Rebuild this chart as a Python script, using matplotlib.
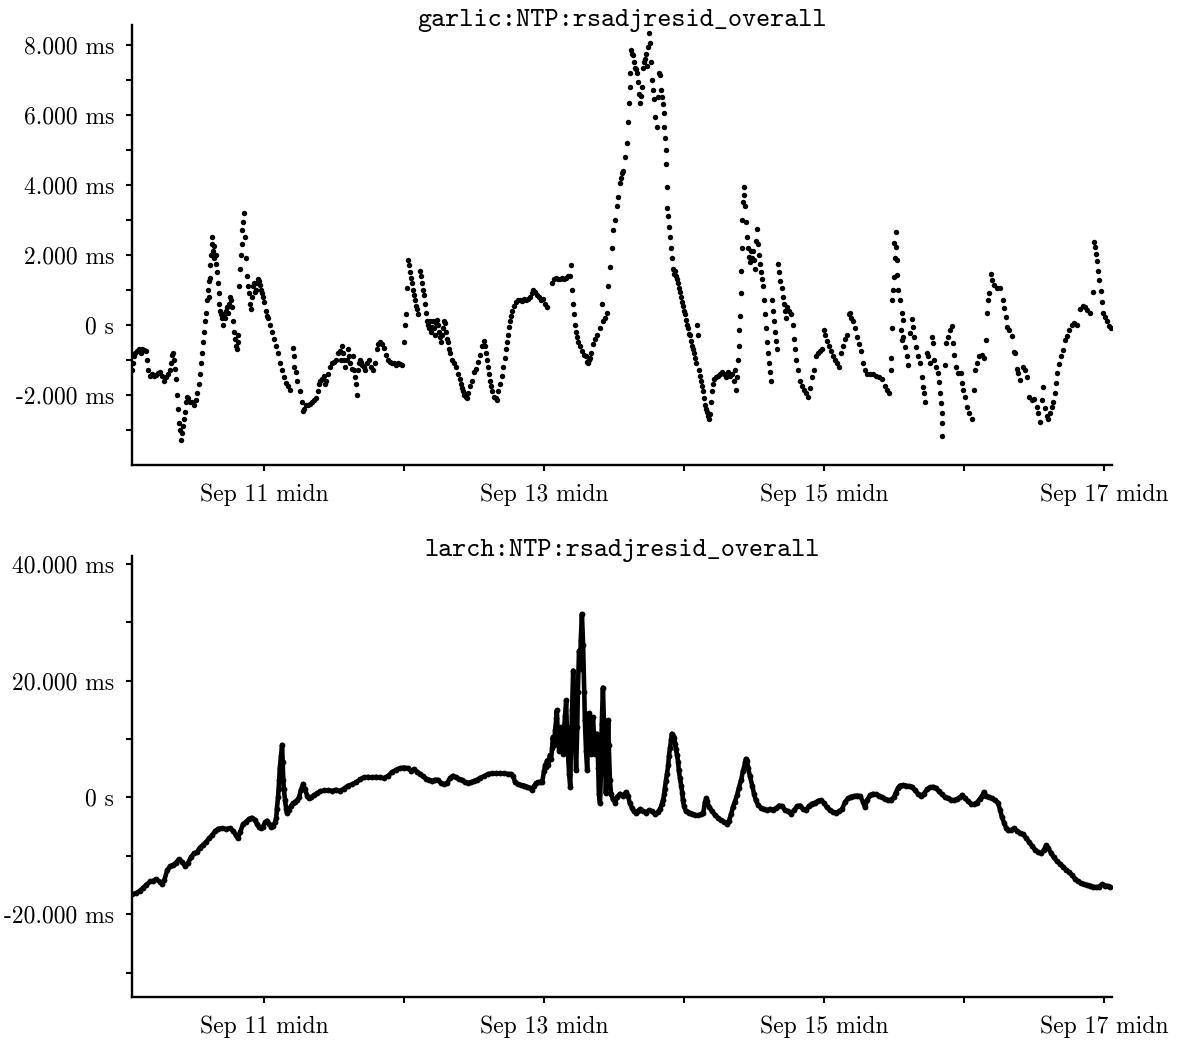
import numpy as np
import matplotlib.pyplot as plt
from matplotlib.ticker import FixedLocator, FixedFormatter

plt.rcParams['font.family'] = ['cmr10', 'DejaVu Serif']
plt.rcParams['axes.unicode_minus'] = False

# time in hours since Sep 10 00:00, offsets in ms
garlic_hours = [
    1.37, 1.54, 1.71, 1.89, 2.23, 2.57, 2.91, 3.09, 3.43, 3.77, 3.94, 4.11, 4.46, 4.80, 5.14, 5.49,
    5.83, 6.17, 6.51, 6.86, 7.20, 7.54, 7.89, 8.06, 8.23, 8.40, 8.57, 8.74, 8.91, 9.09, 9.26, 9.43,
    9.60, 9.77, 9.94, 10.11, 10.29, 10.46, 10.63, 10.80, 10.97, 11.31, 11.66, 12.00, 12.34, 12.51,
    12.86, 13.03, 13.20, 13.37, 13.54, 13.71, 13.89, 14.06, 14.23, 14.40, 14.49, 14.57, 14.66, 14.74,
    14.91, 15.00, 15.09, 15.26, 15.34, 15.43, 15.60, 15.69, 15.77, 15.94, 16.11, 16.20, 16.29, 16.46,
    16.63, 16.80, 16.97, 17.14, 17.31, 17.49, 17.66, 17.83, 18.00, 18.17, 18.34, 18.51, 18.69, 18.86,
    19.03, 19.20, 19.37, 19.46, 19.54, 19.71, 19.89, 20.06, 20.23, 20.31, 20.40, 20.57, 20.74, 20.91,
    21.09, 21.26, 21.43, 21.60, 21.77, 21.94, 22.11, 22.29, 22.46, 22.63, 22.80, 22.97, 23.14, 23.31,
    23.49, 23.66, 23.83, 24.00, 24.34, 24.51, 24.69, 25.03, 25.37, 25.71, 26.06, 26.40, 26.74, 27.09,
    27.43, 27.77, 28.11, 28.46, 28.97, 29.06, 29.14, 29.49, 29.66, 30.17, 30.51, 30.69, 30.86, 31.20,
    31.54, 31.89, 32.23, 32.57, 32.91, 33.26, 33.43, 33.60, 33.94, 34.29, 34.46, 34.63, 34.97, 35.31,
    35.66, 36.00, 36.34, 36.69, 37.03, 37.20, 37.37, 37.54, 37.71, 37.89, 38.23, 38.40, 38.57, 38.74,
    39.09, 39.26, 39.43, 39.60, 39.77, 39.94, 40.11, 40.29, 40.46, 40.63, 40.80, 41.14, 41.31, 41.66,
    42.00, 42.34, 42.69, 43.03, 43.37, 43.54, 43.89, 44.23, 44.57, 44.91, 45.26, 45.60, 45.94, 46.29,
    46.63, 46.97, 47.31, 47.66, 48.00, 48.17, 48.34, 48.51, 48.69, 48.86, 49.03, 49.20, 49.37, 49.54,
    49.71, 49.89, 50.06, 50.23, 50.40, 50.74, 50.91, 51.09, 51.26, 51.43, 51.60, 51.77, 51.94, 52.11,
    52.29, 52.46, 52.63, 52.80, 52.97, 53.14, 53.31, 53.49, 53.66, 53.83, 54.00, 54.17, 54.34, 54.51,
    54.69, 54.86, 55.03, 55.20, 55.37, 55.54, 55.71, 55.89, 56.23, 56.57, 56.91, 57.26, 57.60, 57.77,
    57.94, 58.11, 58.29, 58.63, 58.80, 58.97, 59.31, 59.66, 60.00, 60.34, 60.69, 61.03, 61.37, 61.71,
    61.89, 62.06, 62.23, 62.40, 62.57, 62.74, 62.91, 63.09, 63.43, 63.77, 63.94, 64.11, 64.46, 64.80,
    64.97, 65.31, 65.49, 65.66, 65.83, 66.00, 66.17, 66.34, 66.51, 66.86, 67.20, 67.54, 67.89, 68.23,
    68.57, 68.91, 69.26, 69.60, 69.94, 70.11, 70.46, 70.80, 71.14, 71.49, 71.83, 72.17, 72.51, 73.37,
    73.71, 74.06, 74.40, 74.74, 75.09, 75.43, 75.77, 76.11, 76.46, 76.63, 76.80, 76.97, 77.14, 77.31,
    77.49, 77.66, 77.83, 78.17, 78.51, 78.86, 79.20, 79.37, 79.54, 79.71, 79.89, 80.06, 80.40, 80.74,
    81.09, 81.60, 81.94, 82.11, 82.46, 82.80, 82.97, 83.31, 83.66, 83.83, 84.17, 84.51, 84.69, 85.03,
    85.20, 85.37, 85.54, 85.89, 86.23, 86.40, 86.57, 86.66, 86.74, 86.91, 87.09, 87.26, 87.43, 87.60,
    87.77, 87.94, 88.11, 88.29, 88.46, 88.63, 88.80, 88.97, 89.14, 89.31, 89.49, 89.66, 89.83, 90.00,
    90.17, 90.34, 90.51, 90.69, 90.86, 91.03, 91.37, 91.54, 91.71, 91.89, 92.06, 92.23, 92.40, 92.49,
    92.57, 92.74, 92.83, 92.91, 93.00, 93.09, 93.26, 93.43, 93.60, 93.77, 93.94, 94.11, 94.29, 94.46,
    94.63, 94.80, 94.97, 95.14, 95.31, 95.49, 95.66, 95.83, 96.00, 96.17, 96.34, 96.51, 96.69, 96.86,
    97.03, 97.20, 97.37, 97.54, 97.71, 97.89, 98.06, 98.23, 98.40, 98.57, 98.74, 98.91, 99.09, 99.26,
    99.43, 99.60, 99.77, 99.94, 100.11, 100.29, 100.46, 100.63, 100.80, 100.97, 101.14, 101.49,
    101.83, 102.17, 102.51, 102.86, 103.20, 103.54, 103.89, 104.23, 104.57, 104.74, 104.91, 105.09,
    105.26, 105.43, 105.51, 105.60, 105.69, 105.77, 105.86, 105.94, 106.11, 106.20, 106.29, 106.46,
    106.63, 106.80, 106.97, 107.14, 107.31, 107.49, 107.66, 107.83, 108.00, 108.17, 108.34, 108.51,
    108.69, 108.86, 109.03, 109.20, 109.37, 109.54, 109.71, 109.89, 110.06, 110.23, 110.40, 110.57,
    110.74, 110.91, 111.09, 111.26, 111.43, 111.60, 111.77, 111.94, 112.11, 112.29, 112.46, 112.80,
    112.97, 113.14, 113.31, 113.49, 113.66, 114.00, 114.34, 114.69, 114.86, 115.03, 115.20, 115.54,
    115.89, 116.23, 116.57, 116.91, 117.26, 117.60, 117.94, 118.29, 118.63, 118.97, 119.31, 119.66,
    120.00, 120.17, 120.51, 120.86, 121.20, 121.54, 121.89, 122.23, 122.57, 122.91, 123.26, 123.60,
    123.94, 124.29, 124.46, 124.63, 124.97, 125.31, 125.66, 126.00, 126.34, 126.69, 127.03, 127.37,
    127.89, 128.40, 128.91, 129.43, 129.94, 130.46, 130.80, 131.14,
    131.43, 131.54, 131.61, 131.66, 131.78, 132.00, 132.12, 132.00, 132.34, 132.34, 132.46, 132.57,
    132.74, 133.03, 133.32, 133.49, 133.15, 133.32, 133.59, 133.89, 134.18, 134.35, 134.74, 135.03,
    135.20, 135.43, 135.77, 136.17, 136.46, 136.75, 136.92, 137.14, 137.31, 137.60, 137.88, 138.17,
    138.46, 138.63, 138.86, 139.20, 139.49, 139.77, 139.94, 140.06, 140.18, 140.23, 140.28, 140.74,
    140.91, 141.20, 141.60, 141.89, 142.06, 142.29, 142.63, 143.02, 143.43, 143.66, 143.88, 144.22,
    144.57, 144.91, 145.32, 145.71, 145.94, 146.18, 146.62, 147.03, 147.43, 147.77, 148.00, 148.17,
    148.34, 148.58, 148.80, 149.14, 149.61, 150.17, 150.63, 150.86, 151.20, 151.42, 151.77, 152.18,
    152.57, 152.79, 153.03, 153.31, 153.60, 154.17, 154.46, 154.75, 155.19, 155.61, 156.00, 156.46,
    156.74, 157.03, 157.37, 157.59, 157.89, 158.18, 158.45, 158.74, 159.03, 159.31, 159.60, 159.77,
    160.00, 160.34, 160.58, 160.92, 161.32, 161.71, 162.05, 162.46, 162.86, 163.32, 163.89, 164.45,
    164.74, 165.14, 165.60, 166.06, 166.29, 166.51, 166.63, 166.75, 166.97, 167.19, 167.43, 167.66,
    167.88, 168.22, 168.57, 168.91, 169.15,
]
garlic_ms = [
    -1.3, -1.1, -0.9, -0.8, -0.75, -0.7, -0.8, -0.7, -0.72, -0.75, -1.0, -1.3, -1.45, -1.4, -1.45, -1.42,
    -1.38, -1.35, -1.45, -1.6, -1.5, -1.4, -1.3, -1.1, -0.85, -0.8, -1.0, -1.25, -1.55, -2.0, -2.4, -2.8,
    -3.0, -3.3, -3.1, -2.9, -2.7, -2.5, -2.2, -2.05, -2.1, -2.2, -2.2, -2.3, -2.15, -1.95,
    -1.7, -1.4, -1.1, -0.8, -0.5, -0.2, 0.1, 0.35, 0.7, 1.0, 0.8, 1.25, 1.35, 1.7,
    2.0, 2.3, 2.5, 2.1, 2.25, 1.9, 2.0, 1.75, 2.0, 1.5, 1.2, 0.9, 0.6, 0.4,
    0.3, 0.2, 0.0, 0.3, 0.2, 0.4, 0.5, 0.35, 0.6, 0.8, 0.7, 0.5, 0.1, -0.2,
    -0.4, -0.6, -0.7, -0.3, -0.5, 1.1, 1.6, 2.0, 2.3, 2.7, 2.95, 3.2, 2.5, 1.9,
    1.4, 1.1, 0.9, 0.6, 0.45, 0.8, 1.1, 1.2, 0.95, 1.0, 1.2, 1.3, 1.25, 1.15,
    1.0, 0.9, 0.8, 0.65, 0.4, 0.25, 0.2, 0.0, -0.2, -0.4, -0.6, -0.8, -1.1, -1.3,
    -1.5, -1.65, -1.75, -1.85, -0.65, -0.9, -1.2, -1.35, -1.6, -1.9, -2.2, -2.45, -2.4, -2.3,
    -2.3, -2.25, -2.2, -2.15, -2.1, -1.9, -1.7, -1.6, -1.55, -1.45, -1.7, -1.6, -1.4, -1.2,
    -1.1, -1.05, -1.0, -0.8, -0.75, -1.0, -0.6, -0.8, -1.0, -1.2, -1.0, -0.7, -0.9, -1.1,
    -1.25, -0.9, -1.3, -1.5, -1.7, -2.0, -1.3, -1.1, -1.0, -1.05, -1.15, -1.2, -1.3, -1.1,
    -1.0, -1.2, -1.3, -1.1, -0.7, -0.55, -0.5, -0.55, -0.65, -0.85, -1.0, -1.05, -1.1, -1.1,
    -1.15, -1.1, -1.12, -1.15, -0.5, 0.0, 0.3, 1.05, 1.85, 1.7, 1.5, 1.35, 1.2, 1.0,
    0.85, 0.7, 0.55, 0.45, 0.3, 1.55, 1.4, 1.2, 1.0, 0.85, 0.6, 0.35, 0.1, 0.0,
    -0.1, 0.1, -0.2, -0.05, 0.1, -0.1, -0.3, 0.05, 0.15, 0.0, -0.2, -0.35, -0.5, -0.3,
    -0.1, 0.1, 0.05, -0.2, -0.4, -0.5, -0.7, -0.8, -1.0, -1.1, -1.2, -1.4, -1.55, -1.7,
    -1.8, -1.9, -2.0, -2.05, -2.1, -1.95, -1.75, -1.6, -1.35, -1.25, -1.05, -0.85, -0.6, -0.45,
    -0.6, -0.8, -1.0, -1.2, -1.4, -1.6, -1.75, -1.9, -2.05, -2.1, -2.15, -1.9, -1.7, -1.45,
    -1.2, -0.95, -0.7, -0.5, -0.3, -0.05, 0.1, 0.25, 0.4, 0.55, 0.65, 0.7, 0.7, 0.68,
    0.75, 0.7, 0.75, 0.8, 0.9, 1.0, 0.95, 0.85, 0.8, 0.7, 0.75, 0.6, 0.5, 1.2,
    1.3, 1.35, 1.3, 1.3, 1.35, 1.3, 1.35, 1.4, 1.4, 1.7, 1.0, 0.6, 0.3, 0.0,
    -0.2, -0.35, -0.5, -0.6, -0.75, -0.85, -0.9, -1.05, -1.1, -1.0, -0.95, -0.8, -0.55, -0.4,
    -0.3, -0.1, 0.6, 0.1, 0.2, 0.35, 1.1, 1.65, 2.2, 2.7, 3.0, 3.4, 3.65, 4.05,
    4.2, 4.35, 4.4, 4.8, 5.2, 5.8, 6.35, 6.8, 7.2, 7.85, 7.75, 7.7, 7.5, 7.35,
    7.3, 7.2, 6.95, 6.6, 6.35, 6.55, 6.8, 7.35, 7.5, 7.6, 7.75, 7.4, 7.95, 8.35,
    8.05, 7.5, 7.0, 6.7, 6.45, 5.95, 5.65, 6.5, 7.2, 7.15, 6.7, 6.5, 6.3, 6.05,
    5.65, 5.35, 5.0, 4.6, 3.95, 3.35, 3.1, 2.8, 2.5, 2.2, 1.9, 1.6, 1.45, 1.55,
    1.4, 1.3, 1.2, 1.05, 0.95, 0.8, 0.65, 0.55, 0.4, 0.3, 0.15, 0.0, -0.1, -0.25,
    -0.3, -0.45, -0.6, -0.7, -0.8, -0.95, -1.1, 0.0, -0.3, -1.3, -1.45, -1.6, -1.75, -1.9,
    -2.1, -2.3, -2.4, -2.5, -2.6, -2.7, -2.55, -2.2, -1.9, -1.7, -1.55, -1.5,
    -1.45, -1.4, -1.35, -1.4, -1.5, -1.35, -1.45, -1.4, -1.6, -1.3, -1.85, -1.5,
    -1.0, -0.6, -0.15, 0.25, 0.9, 1.55, 2.2, 3.0, 3.5, 3.95, 3.7, 3.4,
    2.95, 2.5, 2.2, 1.95, 1.8, 2.1, 1.9, 2.1, 1.85, 1.6, 2.4, 2.75,
    2.3, 2.0, 1.75, 1.5, 1.3, 1.1, 0.7, 0.3, -0.1, -0.5, -0.8, -1.1,
    -1.35, -1.6, 0.7, 0.4, 0.1, -0.2, -0.45, -0.7, 1.75, 1.5, 1.25, 1.05,
    0.8, 0.6, 0.4, 0.2, 0.5, 0.4, 0.3, 0.0, -0.4, -0.7, -1.0, -1.3,
    -1.6, -1.75, -1.85, -1.95, -2.05, -1.8, -1.5, -1.3, -0.9, -0.8, -0.75, -0.7,
    -0.15, -0.3, -0.45, -0.6, -0.75, -0.9, -1.0, -1.1, -1.2, -0.8, -0.6, -0.4,
    -0.3, 0.3, 0.35, 0.2, 0.1, -0.1, -0.35, -0.55, -0.75, -1.1, -1.3, -1.4,
    -1.4, -1.4, -1.45, -1.5, -1.55, -1.75, -1.85, -1.95,
    -1.29, -0.95, -0.1, 0.71, 1.0, 1.38, 1.9, 2.33, 2.65, 2.24, 1.86, 1.43,
    1.0, 0.71, 0.33, 0.14, -0.14, -0.43, -0.33, -0.62, -0.9, -1.14, -0.24, 0.16,
    -0.05, -0.33, -0.62, -0.9, -1.1, -1.48, -1.76, -1.95, -2.19, -0.81, -0.9, -1.1,
    -0.33, -0.52, -1.0, -1.19, -1.38, -1.62, -1.95, -2.24, -2.52, -2.81, -3.17, -1.14,
    -0.52, -0.33, -0.14, -0.03, -0.52, -0.86, -1.19, -1.38, -1.38, -1.65, -1.86, -2.05,
    -2.33, -2.52, -2.7, -1.86, -1.29, -1.1, -0.9, -0.86, -0.95, -0.43, 0.33, 0.71,
    0.9, 1.46, 1.29, 1.14, 1.05, 1.05, 0.71, 0.48, 0.24, -0.05, -0.14, -0.31,
    -0.76, -0.81, -1.27, -1.38, -1.57, -1.19, -1.3, -1.48, -2.05, -2.14, -2.12, -2.35,
    -2.52, -2.76, -2.14, -1.76, -2.38, -2.6, -2.7, -2.52, -2.35, -2.19, -1.93, -1.67,
    -1.38, -1.11, -0.9, -0.71, -0.43, -0.31, -0.14, 0.0, 0.07, 0.0, 0.45, 0.54,
    0.5, 0.43, 0.33, 0.95, 2.38, 2.22, 2.03, 1.84, 1.55, 1.29, 0.98, 0.67,
    0.33, 0.24, 0.1, -0.03, -0.1,
]

larch_hours = [
    1.4, 2.1, 2.7, 3.3, 3.8, 4.5, 5.0, 5.5, 6.2, 6.5, 6.9, 7.4, 7.9, 8.4, 8.9, 9.4, 9.9, 10.5, 11.0,
    11.5, 12.0, 12.5, 13.0, 13.5, 14.1, 14.6, 15.1, 15.6, 16.1, 16.8, 17.5, 18.2, 18.7, 19.2, 19.5,
    19.9, 20.4, 20.9, 21.4, 21.9, 22.5, 22.8, 23.1, 23.5, 23.8, 24.2, 24.5, 24.9, 25.2, 25.5, 25.9,
    26.1, 26.2, 26.4, 26.5, 26.6, 26.7, 26.9, 27.1, 27.2, 27.3, 27.4, 27.6, 27.8, 27.9, 28.3, 28.6,
    29.0, 29.3, 29.7, 30.0, 30.3, 30.7, 31.0, 31.4, 31.7, 32.1, 32.6, 33.1, 33.6, 34.3, 35.0, 35.7,
    36.3, 37.0, 37.7, 38.4, 39.1, 39.8, 40.5, 41.1, 41.8, 42.5, 43.2, 43.9, 44.6, 45.3, 45.9, 46.6,
    47.3, 48.0, 48.7, 49.2, 49.7, 50.2, 50.7, 51.3, 51.8, 52.3, 52.8, 53.3, 53.8, 54.3, 54.9, 55.4,
    55.9, 56.4, 56.9, 57.4, 57.9, 58.5, 59.0, 59.5, 60.0, 60.5, 61.0, 61.7, 62.4, 63.1, 63.8, 64.5,
    65.1, 65.8, 66.3, 66.7, 67.0, 67.5, 68.1, 68.6, 69.1, 69.6, 69.9, 70.3, 70.6, 71.0, 71.3, 71.7,
    72.0, 72.2, 72.3, 72.5, 72.7, 72.9, 73.0, 73.2, 73.4, 73.5, 73.7, 73.9, 74.1, 74.2, 74.4, 74.6,
    74.7, 74.9, 75.1, 75.3, 75.4, 75.6, 75.8, 75.9, 76.1, 76.3, 76.5, 76.6, 76.8, 77.0, 77.1, 77.3,
    77.5, 77.7, 77.8, 78.0, 78.2, 78.3, 78.5, 78.7, 78.9, 79.0, 79.2, 79.4, 79.5, 79.7, 79.9, 80.1,
    80.2, 80.4, 80.6, 80.7, 80.9, 81.1, 81.3, 81.4, 81.6, 81.8, 81.9, 82.1, 82.3, 82.5, 82.6, 82.8,
    83.0, 83.1, 83.3, 83.5, 83.8, 84.2, 84.5, 85.0, 85.5, 86.1, 86.4, 86.7, 87.1, 87.4, 87.8, 88.1,
    88.5, 89.0, 89.5, 90.0, 90.5, 91.0, 91.5, 91.9, 92.2, 92.4, 92.6, 92.7, 92.9, 93.1, 93.3, 93.4,
    93.6, 93.8, 93.9, 94.1, 94.3, 94.5, 94.6, 94.8, 95.0, 95.1, 95.3, 95.5, 95.7, 95.8, 96.0, 96.3,
    96.9, 97.4, 97.9, 98.4, 98.9, 99.3, 99.6, 99.8, 99.9, 100.3, 100.8, 101.3, 101.8, 102.3, 102.9,
    103.4, 103.7, 104.1, 104.4, 104.7, 105.1, 105.4, 105.8, 106.1, 106.5, 106.6, 106.8, 107.0, 107.3,
    107.7, 108.0, 108.3, 108.7, 109.2, 109.7, 110.2, 110.7, 111.3, 111.8, 112.3, 112.8, 113.3, 113.8,
    114.3, 114.9, 115.4, 115.9, 116.4, 116.9, 117.4, 117.9, 118.5, 119.0, 119.5, 120.0, 120.5, 121.0,
    121.5, 122.1, 122.6, 123.1, 123.6, 124.1, 124.6, 125.1, 125.7, 126.2, 126.7, 127.0, 127.4, 127.9,
    128.4, 128.9, 129.4, 129.9, 130.5, 131.0, 131.5, 132.0, 132.3, 132.7, 133.0, 133.5, 134.1, 134.6,
    135.1, 135.6, 136.1, 136.6, 137.1, 137.7, 138.2, 138.7, 139.2, 139.7, 140.2, 140.7, 141.3, 141.8,
    142.3, 142.8, 143.3, 143.7, 144.2, 144.7, 145.2, 145.7, 146.2, 146.7, 147.1, 147.4, 147.8, 148.3,
    148.8, 149.3, 149.8, 150.2, 150.5, 150.9, 151.2, 151.5, 152.1, 152.6, 153.1, 153.6, 154.1, 154.6,
    155.1, 155.7, 156.2, 156.7, 157.2, 157.7, 158.1, 158.4, 158.9, 159.4, 159.9, 160.5, 161.0, 161.5,
    162.0, 162.5, 163.0, 163.5, 164.1, 164.6, 165.1, 165.6, 166.1, 166.6, 167.1, 167.7, 168.2, 168.7,
    169.0,
]
larch_ms = [
    -16.6, -16.4, -16.0, -15.5, -15.0, -14.4, -14.3, -14.0, -14.5, -14.8, -14.2, -12.5, -11.8, -11.6,
    -11.2, -10.6, -11.0, -11.8, -11.2, -10.2, -9.6, -9.4, -8.6, -8.2, -7.6, -7.0, -6.5, -5.8, -5.4,
    -5.3, -5.4, -5.3, -5.7, -6.5, -7.0, -6.0, -4.6, -4.2, -3.7, -3.5, -3.9, -4.6, -5.0, -5.2, -5.0,
    -4.3, -4.0, -4.6, -5.0, -4.9, -4.3, -3.5, -2.0, 0.0, 1.5, 3.0, 5.0, 7.0, 9.0, 6.0, 3.0, 1.5,
    -0.5, -2.0, -2.6, -2.2, -1.5, -1.0, -0.8, -0.5, 0.0, 1.2, 2.3, 1.4, 0.3, -0.2, 0.0, 0.4, 0.7,
    1.0, 1.2, 1.2, 1.1, 1.3, 1.1, 1.5, 2.0, 2.2, 2.6, 3.1, 3.4, 3.5, 3.4, 3.5, 3.4, 3.3, 3.7, 4.3,
    4.7, 5.0, 5.1, 5.0, 4.5, 4.8, 4.4, 4.0, 3.6, 3.2, 3.0, 2.8, 3.0, 3.0, 2.5, 2.2, 2.5, 3.3, 3.7,
    3.4, 3.1, 3.0, 2.6, 2.5, 2.6, 2.8, 3.0, 3.3, 3.6, 4.0, 4.1, 4.1, 4.1, 4.1, 4.0, 4.0, 3.6, 2.7,
    2.2, 2.1, 2.0, 1.8, 1.6, 1.3, 1.9, 2.4, 2.6, 2.6, 2.7,
    4.5, 5.5, 5.2, 6.3, 5.6, 6.5, 7.2, 6.6, 8.5, 10.3, 9.0, 11.5, 13.5, 14.9, 10.0, 8.0,
    10.5, 12.0, 9.0, 7.5, 11.0, 14.0, 16.6, 12.0, 7.5, 4.0, 1.7, 8.0, 15.0, 21.7, 16.0, 10.0,
    4.6, 12.0, 18.0, 25.1, 22.0, 27.0, 31.4, 26.0, 18.0, 13.2, 8.0, 4.6, 9.0, 14.4, 11.0, 7.5,
    10.5, 13.7, 10.0, 7.5, 9.0, 10.9, 5.0, 0.5, -1.0, 6.0, 12.5, 18.8, 12.0, 5.0, 0.7, 6.0,
    13.2, 9.0, 2.9, 0.5, -0.3, -0.9, 0.0, 0.6, 0.2, 0.9, 0.3, -1.0, -1.8, -2.4, -2.7, -2.3,
    -2.0, -2.4, -2.6, -2.2, -2.4, -2.9, -2.5, -2.0, -1.2, -0.5, 0.5, 1.5, 2.8, 4.0, 5.5, 7.0,
    8.5, 10.0, 10.9, 10.5, 10.1, 9.2, 8.2, 7.3, 6.0, 4.6, 3.3, 2.0, 0.8, -0.5, -1.5, -2.3,
    -2.6, -2.8, -3.0, -3.1, -2.9, -2.6, -0.8, -0.2, -0.6, -1.6, -2.4, -3.0, -3.5, -3.9, -4.2,
    -4.5, -4.0, -2.8, -1.6, -0.8, 0.4, 1.6, 3.0, 4.5, 6.0, 6.6, 6.2, 5.0, 3.6,
    2.0, 0.6, -0.5, -1.3, -1.8, -2.0, -2.2, -2.0, -2.1, -1.9, -1.4, -1.5, -2.2, -2.4,
    -2.8, -2.2, -1.5, -1.4, -2.0, -2.2, -1.5, -1.1, -0.9, -0.6, -0.5, -1.0, -1.7, -2.2,
    -2.5, -2.6, -2.4, -2.0, -0.8, -0.2, 0.1, 0.2, 0.3, 0.2, -0.8, -1.6, -0.5, 0.4,
    0.6, 0.5, 0.3, 0.0, -0.3, -0.5, -0.4, 0.0, 0.8, 1.6, 2.0, 2.1, 2.0, 1.9,
    1.8, 1.2, 0.6, 0.3, 0.6, 1.4, 1.7, 1.8, 1.6, 1.0, 0.5, 0.1, -0.2, -0.4,
    -0.5, -0.3, 0.0, 0.4, -0.2, -0.7, -1.1, -1.2, -0.9, -0.3, 0.2, 0.9, 0.3, 0.0,
    -0.2, -0.5, -0.9, -2.2, -3.4, -4.4, -5.2, -5.6, -5.6, -5.3, -5.8, -6.1, -6.3, -6.9,
    -7.6, -8.4, -9.0, -9.4, -9.6, -9.0, -8.2, -8.6, -9.5, -10.3, -10.9, -11.4, -11.9, -12.4,
    -12.8, -13.3, -13.9, -14.4, -14.7, -14.9, -15.0, -15.1, -15.3, -15.4, -15.3, -14.9, -15.1, -15.2,
    -15.3,
]

day_ticks = [24, 72, 120, 168]
day_labels = ['Sep 11 midn', 'Sep 13 midn', 'Sep 15 midn', 'Sep 17 midn']
day_minor = [48, 96, 144]

garlic_ticks = [8, 6, 4, 2, 0, -2]
garlic_labels = ['8.000 ms', '6.000 ms', '4.000 ms', '2.000 ms', '0 s', '-2.000 ms']
garlic_minor = [7, 5, 3, 1, -1, -3]

larch_ticks = [40, 20, 0, -20]
larch_labels = ['40.000 ms', '20.000 ms', '0 s', '-20.000 ms']
larch_minor = [30, 10, -10, -30]

fig = plt.figure(figsize=(11.84, 10.4), dpi=100)
ax1 = fig.add_axes([0.1115, 0.5529, 0.8277, 0.4231])
ax2 = fig.add_axes([0.1115, 0.0413, 0.8277, 0.4245])

ax1.plot(garlic_hours, garlic_ms, 'o', color='black', ms=3.9, mew=0)
ax2.plot(larch_hours, larch_ms, '-', color='black', lw=3.3,
         solid_joinstyle='round', solid_capstyle='round')
ax2.plot(larch_hours, larch_ms, 'o', color='black', ms=4.2, mew=0)


def style(ax, yt, yl, ym, ylim, title):
    ax.set_xlim(1.37, 169.37)
    ax.set_ylim(*ylim)
    for s in ['top', 'right']:
        ax.spines[s].set_visible(False)
    for s in ['left', 'bottom']:
        ax.spines[s].set_linewidth(1.7)
    ax.xaxis.set_major_locator(FixedLocator(day_ticks))
    ax.xaxis.set_major_formatter(FixedFormatter(day_labels))
    ax.xaxis.set_minor_locator(FixedLocator(day_minor))
    ax.yaxis.set_major_locator(FixedLocator(yt))
    ax.yaxis.set_major_formatter(FixedFormatter(yl))
    ax.yaxis.set_minor_locator(FixedLocator(ym))
    ax.tick_params(which='both', direction='out', length=4, width=1.5,
                   labelsize=17, pad=9)
    # title sits on the top edge of the plot area
    ax.text(0.5, 0.998, title, transform=ax.transAxes, ha='center', va='baseline',
            family='cmtt10', fontsize=19.4)


style(ax1, garlic_ticks, garlic_labels, garlic_minor, (-4.0, 8.57),
      'garlic:NTP:rsadjresid_overall')
style(ax2, larch_ticks, larch_labels, larch_minor, (-34.2, 41.4),
      'larch:NTP:rsadjresid_overall')

fig.savefig('out.png', dpi=100)
